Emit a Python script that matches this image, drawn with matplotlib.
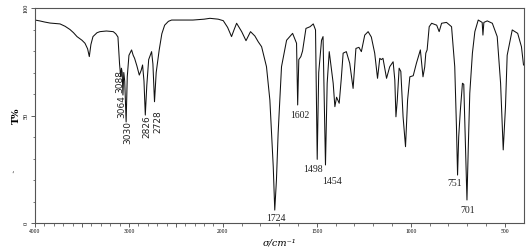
import numpy as np
import matplotlib
matplotlib.use('Agg')
import matplotlib.pyplot as plt
from matplotlib.ticker import FixedLocator

# spectrum (wavenumber / cm-1, transmittance / %)
wavenumber = [4000, 3950, 3900, 3840, 3780, 3734, 3680, 3628, 3590, 3553,
              3500, 3468, 3440, 3422, 3405, 3383, 3340, 3309, 3240, 3167,
              3140, 3117, 3100, 3088, 3080, 3072, 3064, 3055, 3045, 3030,
              3018, 3000, 2972, 2955, 2940, 2915, 2890, 2870, 2855, 2840,
              2826, 2810, 2790, 2759, 2745, 2728, 2710, 2678, 2650, 2620,
              2580, 2546, 2450, 2319, 2200, 2138, 2050, 1998, 1975, 1954,
              1940, 1927, 1900, 1877, 1853, 1830, 1812, 1794, 1768, 1750,
              1732, 1724, 1715, 1706, 1688, 1661, 1629, 1608, 1602, 1596,
              1585, 1576, 1558, 1536, 1519, 1507, 1498, 1490, 1475, 1467,
              1454, 1445, 1434, 1413, 1404, 1395, 1381, 1370, 1360, 1343,
              1325, 1307, 1292, 1276, 1263, 1245, 1227, 1210, 1192, 1177,
              1165, 1157, 1148, 1129, 1112, 1094, 1085, 1079, 1072, 1062,
              1053, 1041, 1028, 1017, 1005, 987, 970, 949, 935, 926,
              920, 913, 902, 889, 862, 849, 836, 810, 783, 766,
              757, 751, 745, 736, 725, 718, 710, 701, 694, 686,
              672, 659, 641, 620, 616, 611, 593, 566, 540, 522,
              508, 496, 487, 460, 431, 411, 400]
transmittance = [94.4, 94, 93.5, 93, 92.8, 92.6, 91.5, 90, 88.5, 86.7,
                 85, 83.6, 81, 77.4, 83, 86.7, 88.5, 89, 89.3, 89,
                 88, 86.5, 74, 68, 72, 70, 59.5, 70, 66, 47,
                 68, 78, 80.5, 78, 76.6, 73, 68.8, 71, 73.5, 66,
                 50.2, 64, 76, 79.7, 74, 56.4, 70, 80.5, 88, 92,
                 93.8, 94.4, 94.4, 94.4, 94.8, 95.2, 94.8, 94.1, 91, 86.7,
                 90, 92.9, 89, 84.8, 89, 87, 84.3, 82, 72.7, 57.2,
                 26.2, 6, 20, 41.8, 72.7, 85, 88.2, 83.6, 54.9, 76,
                 77.4, 80, 90.5, 91.3, 92.6, 89.8, 29.6, 70, 85, 86.7,
                 27, 65, 79.7, 65, 54.1, 58.5, 55.7, 67, 79, 79.7,
                 74.3, 62.6, 81.2, 81.7, 79.7, 87.4, 89, 86.5, 79, 67.3,
                 76.6, 76, 76.6, 67.3, 72.7, 75, 66.5, 49.4, 57, 72,
                 70.5, 49.4, 35.5, 57.2, 68, 68.5, 74.3, 80.5, 68, 72.5,
                 79, 80.5, 91.3, 92.9, 92, 89, 92.9, 93.3, 91.3, 72.7,
                 45, 22.3, 40, 52.6, 65, 64.5, 40, 10.7, 35, 60.3,
                 79, 89, 94.4, 93.3, 87.4, 93.3, 94, 92.9, 86.7, 65,
                 34, 54, 78, 89.8, 88.2, 82, 73.5]

# labelled peaks: (text, label wavenumber, label T, rotated)
peak_labels = ['3088', '3064', '3030', '2826', '2728',
               '1602', '1498', '1454', '1724', '751', '701']
label_wn = [3096, 3078, 3011, 2812, 2691, 1590, 1519, 1421, 1717, 766, 698]
label_t = [65.6, 54, 41.9, 44.7, 47, 49.9, 24.7, 19.5, 2.2, 18.5, 5.6]
label_rot = [90, 90, 90, 90, 90, 0, 0, 0, 0, 0, 0]

x_major = [4000, 3500, 3000, 2500, 2000, 1500, 1000, 500]
x_labels = ['4000', '', '3000', '', '2000', '1500', '1000', '500']


# usual IR chart: scale doubles below 2000 cm-1 (increasing map, axis inverted)
def fwd(x):
    x = np.asarray(x, dtype=float)
    return np.where(x >= 2000, (x - 4000) / 1000, -2 - (2000 - x) / 500)


def inv(u):
    u = np.asarray(u, dtype=float)
    return np.where(u >= -2, 4000 + 1000 * u, 2000 + 500 * (u + 2))


fig = plt.figure(figsize=(5.28, 2.5), dpi=100)
ax = fig.add_axes([0.0663, 0.108, 0.9252, 0.86])
ax.set_xscale('function', functions=(fwd, inv))

ax.plot(wavenumber, transmittance, color='#111111', lw=0.75)

for txt, xw, yt, rot in zip(peak_labels, label_wn, label_t, label_rot):
    if rot:
        ax.text(xw, yt, txt, rotation=90, ha='center', va='center',
                fontsize=6.5, family='DejaVu Sans', color='#222222')
    else:
        ax.text(xw, yt, txt, ha='center', va='center',
                fontsize=7, family='Liberation Serif', color='#222222')

ax.set_xlim(4000, 400)
ax.set_ylim(0, 100)

ax.xaxis.set_major_locator(FixedLocator(x_major))
ax.xaxis.set_minor_locator(FixedLocator(list(range(3900, 400, -100))))
ax.set_xticklabels(x_labels, fontsize=4, family='Liberation Serif')
ax.set_yticks([0, 50, 100])
ax.set_yticks(list(range(10, 100, 10)), minor=True)
ax.set_yticklabels(['0', '50', '100'], rotation=90, va='center',
                   fontsize=4.5, family='Liberation Serif')

ax.tick_params(which='major', length=3, width=0.6, pad=1.5, color='#444444')
ax.tick_params(which='minor', length=1.8, width=0.5, color='#444444')
for s in ax.spines.values():
    s.set_color('#555555')
    s.set_linewidth(0.8)

ax.set_xlabel('σ/cm⁻¹', fontsize=7, family='DejaVu Serif',
              style='italic', labelpad=3)
ax.set_ylabel('T%', fontsize=7, family='DejaVu Serif',
              fontweight='bold', labelpad=2)
fig.text(0.022, 0.29, '‘', fontsize=6, color='#555555')

fig.savefig('out.png', dpi=100)
